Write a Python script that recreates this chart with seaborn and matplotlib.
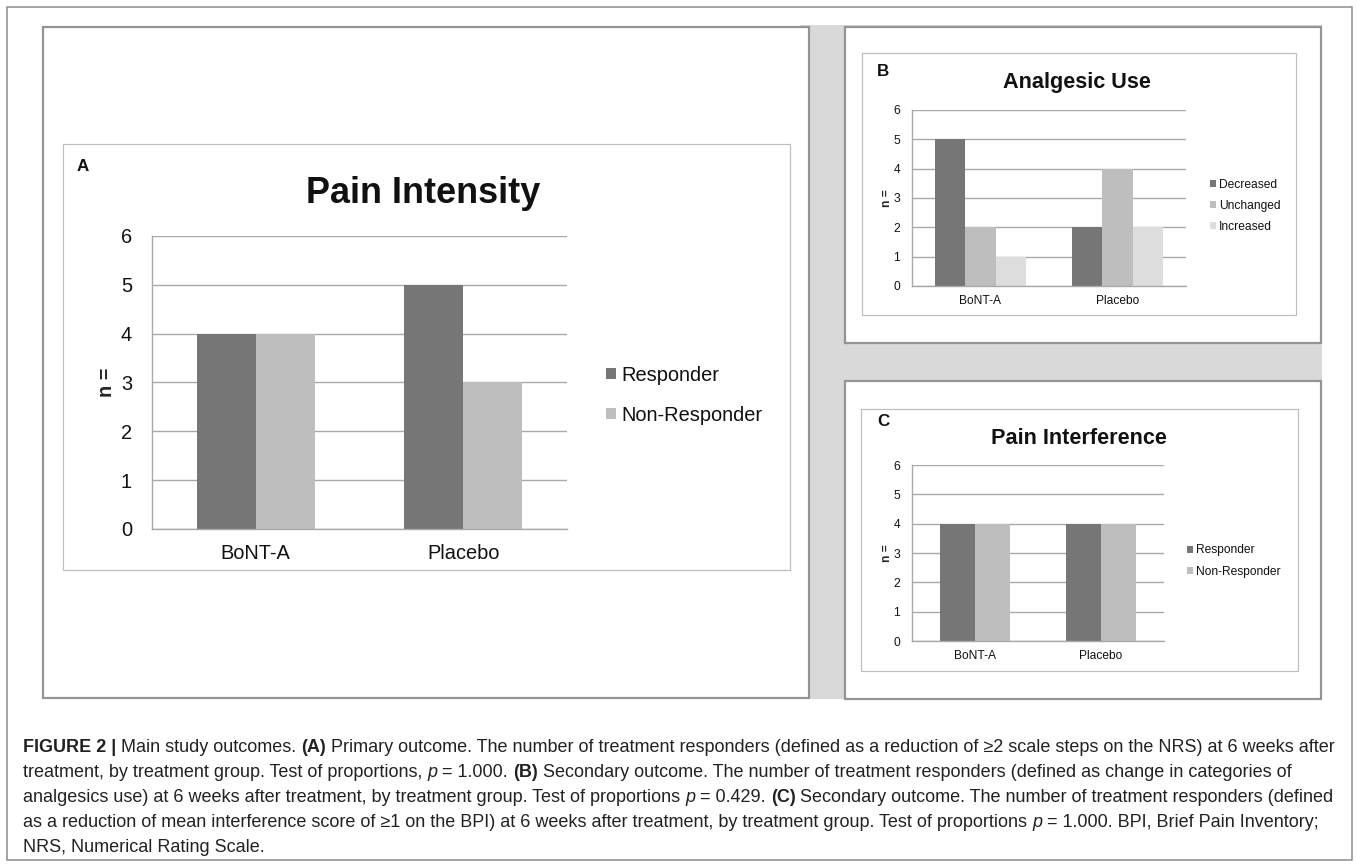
import matplotlib
matplotlib.use("Agg")
import matplotlib.pyplot as plt
from matplotlib.patches import Rectangle
import pandas as pd
import seaborn as sns

W, H = 1357, 866
DPI = 100

# ---- data -----------------------------------------------------------------
groups = ["BoNT-A", "Placebo"]
y_ticks = [0, 1, 2, 3, 4, 5, 6]

# (A) pain intensity
intensity_labels = ["Responder", "Non-Responder"]
intensity_responder = [4, 5]
intensity_non_responder = [4, 3]

# (B) analgesic use
analgesic_labels = ["Decreased", "Unchanged", "Increased"]
analgesic_decreased = [5, 2]
analgesic_unchanged = [2, 4]
analgesic_increased = [1, 2]

# (C) pain interference
interference_labels = ["Responder", "Non-Responder"]
interference_responder = [4, 4]
interference_non_responder = [4, 4]

panel_titles = ["Pain Intensity", "Analgesic Use", "Pain Interference"]
panel_letters = ["A", "B", "C"]

caption_lines = [
    [("FIGURE 2 |", "bold"), ("Main study outcomes.", "normal"), ("(A)", "bold"),
     ("Primary outcome. The number of treatment responders (defined as a reduction of \u22652 scale steps on the NRS) at 6 weeks after", "normal")],
    [("treatment, by treatment group. Test of proportions,", "normal"), ("p", "italic"), ("= 1.000.", "normal"), ("(B)", "bold"),
     ("Secondary outcome. The number of treatment responders (defined as change in categories of", "normal")],
    [("analgesics use) at 6 weeks after treatment, by treatment group. Test of proportions", "normal"), ("p", "italic"),
     ("= 0.429.", "normal"), ("(C)", "bold"), ("Secondary outcome. The number of treatment responders (defined", "normal")],
    [("as a reduction of mean interference score of \u22651 on the BPI) at 6 weeks after treatment, by treatment group. Test of proportions", "normal"),
     ("p", "italic"), ("= 1.000. BPI, Brief Pain Inventory;", "normal")],
    [("NRS, Numerical Rating Scale.", "normal")],
]

DARK, MID, LIGHT = "#767676", "#bebebe", "#dddddd"
GRID = "#a9a9a9"
TEXT = "#111111"


def long_frame(labels, series):
    rows = []
    for lab, vals in zip(labels, series):
        for g, v in zip(groups, vals):
            rows.append({"group": g, "status": lab, "n": v})
    return pd.DataFrame(rows)


def fbox(x0, y0, x1, y1):
    # pixel box (origin top-left) -> figure fraction rect
    return [x0 / W, 1 - y1 / H, (x1 - x0) / W, (y1 - y0) / H]


def fxy(x, y):
    return x / W, 1 - y / H


def pt(px):
    return px * 72 / DPI


def add_rect(fig, x0, y0, x1, y1, fc, ec, lw_px, z):
    fig.add_artist(Rectangle(fxy(x0, y1), (x1 - x0) / W, (y1 - y0) / H,
                             transform=fig.transFigure, facecolor=fc,
                             edgecolor=ec, linewidth=pt(lw_px), zorder=z))


sns.set_style("white")
plt.rcParams["font.family"] = ["Liberation Sans", "DejaVu Sans"]
plt.rcParams["text.color"] = TEXT

fig = plt.figure(figsize=(W / DPI, H / DPI), dpi=DPI)

# ---- frames ---------------------------------------------------------------
add_rect(fig, 7, 7, 1352, 860, "white", "#8a8a8a", 1.5, -5)
add_rect(fig, 800, 25, 1322, 699, "#d9d9d9", "none", 0, -4)
for box in [(43, 27, 809, 698), (845, 27, 1321, 343), (845, 381, 1321, 699)]:
    add_rect(fig, *box, "white", "#949494", 2.2, -3)
for box in [(63, 144, 790, 570), (862, 53, 1296, 315), (861, 409, 1298, 671)]:
    add_rect(fig, *box, "white", "#bdbdbd", 1.2, -2)

# ---- panels ---------------------------------------------------------------
panels = [
    dict(df=long_frame(intensity_labels, [intensity_responder, intensity_non_responder]),
         hue=intensity_labels, colors=[DARK, MID], rect=(152, 236, 567, 529), width=0.57,
         tick_px=20, ticklen=5, ypad=14, xpad=15, ylab_x=107,
         legend_xy=(606, 395), legend_px=20, legend_sp=1.05,
         title_xy=(423, 203), title_px=36, letter_xy=(77, 171), letter_px=17),
    dict(df=long_frame(analgesic_labels, [analgesic_decreased, analgesic_unchanged, analgesic_increased]),
         hue=analgesic_labels, colors=[DARK, MID, LIGHT], rect=(912, 110, 1186, 286), width=0.665,
         tick_px=12, ticklen=3, ypad=8, xpad=9, ylab_x=887,
         legend_xy=(1210, 206), legend_px=12, legend_sp=0.75,
         title_xy=(1077, 88), title_px=21.6, letter_xy=(877, 76), letter_px=17),
    dict(df=long_frame(interference_labels, [interference_responder, interference_non_responder]),
         hue=interference_labels, colors=[DARK, MID], rect=(912, 465, 1164, 641), width=0.56,
         tick_px=12, ticklen=3, ypad=8, xpad=9, ylab_x=887,
         legend_xy=(1187, 561), legend_px=12, legend_sp=0.75,
         title_xy=(1079, 444), title_px=21.7, letter_xy=(877, 426), letter_px=17),
]

for p, title, letter in zip(panels, panel_titles, panel_letters):
    x0, y0, x1, y1 = p["rect"]
    ax = fig.add_axes(fbox(x0, y0, x1, y1))
    sns.barplot(data=p["df"], x="group", y="n", hue="status", hue_order=p["hue"],
                order=groups, palette=p["colors"], width=p["width"], saturation=1,
                linewidth=0, errorbar=None, ax=ax)
    ax.set_ylim(0, 6)
    ax.set_yticks(y_ticks)
    ax.grid(axis="y", color=GRID, linewidth=1.0)
    ax.set_axisbelow(True)
    for s in ["top", "right"]:
        ax.spines[s].set_visible(False)
    for s in ["left", "bottom"]:
        ax.spines[s].set_color(GRID)
        ax.spines[s].set_linewidth(1.0)
    ax.tick_params(axis="y", length=pt(p["ticklen"] + 1), width=1.0, color=GRID,
                   pad=pt(p["ypad"]), labelsize=pt(p["tick_px"]), labelcolor=TEXT)
    ax.tick_params(axis="x", length=0, pad=pt(p["xpad"]), labelsize=pt(p["tick_px"]),
                   labelcolor=TEXT)
    ax.set_xlabel("")
    ax.set_ylabel("n =", fontweight="bold", fontsize=pt(p["tick_px"]), va="center")
    ax.yaxis.set_label_coords((p["ylab_x"] - x0) / (x1 - x0), 0.5)

    handles, labels = ax.get_legend_handles_labels()
    ax.legend(handles, labels, loc="center left", bbox_to_anchor=fxy(*p["legend_xy"]),
              bbox_transform=fig.transFigure, frameon=False, fontsize=pt(p["legend_px"]),
              handlelength=0.5, handleheight=0.5, handletextpad=0.25,
              labelspacing=p["legend_sp"], borderpad=0, borderaxespad=0)

    fig.text(*fxy(*p["title_xy"]), title, ha="center", va="baseline",
             fontsize=pt(p["title_px"]), fontweight="bold")
    fig.text(*fxy(*p["letter_xy"]), letter, ha="left", va="baseline",
             fontsize=pt(p["letter_px"]), fontweight="bold")

# ---- caption --------------------------------------------------------------
renderer = fig.canvas.get_renderer()


def seg_width(s, weight, size):
    style = "italic" if weight == "italic" else "normal"
    fw = "bold" if weight == "bold" else "normal"
    t = fig.text(0, 0, s, fontsize=size, fontweight=fw, fontstyle=style)
    w = t.get_window_extent(renderer).width
    t.remove()
    return w


def line_width(line, size):
    sp = seg_width("n n", "normal", size) - seg_width("nn", "normal", size)
    return sum(seg_width(s, w, size) for s, w in line) + sp * (len(line) - 1)


base = 12.0
cap_size = base * 1317 / line_width(caption_lines[0], base)
space_w = seg_width("n n", "normal", cap_size) - seg_width("nn", "normal", cap_size)

for i, line in enumerate(caption_lines):
    x = 23
    y = 752 + i * 25
    for s, w in line:
        style = "italic" if w == "italic" else "normal"
        fw = "bold" if w == "bold" else "normal"
        t = fig.text(*fxy(x, y), s, fontsize=cap_size, fontweight=fw, fontstyle=style,
                     ha="left", va="baseline", color="#222222")
        x += t.get_window_extent(renderer).width + space_w

fig.savefig("out.png", dpi=DPI, facecolor="white")
